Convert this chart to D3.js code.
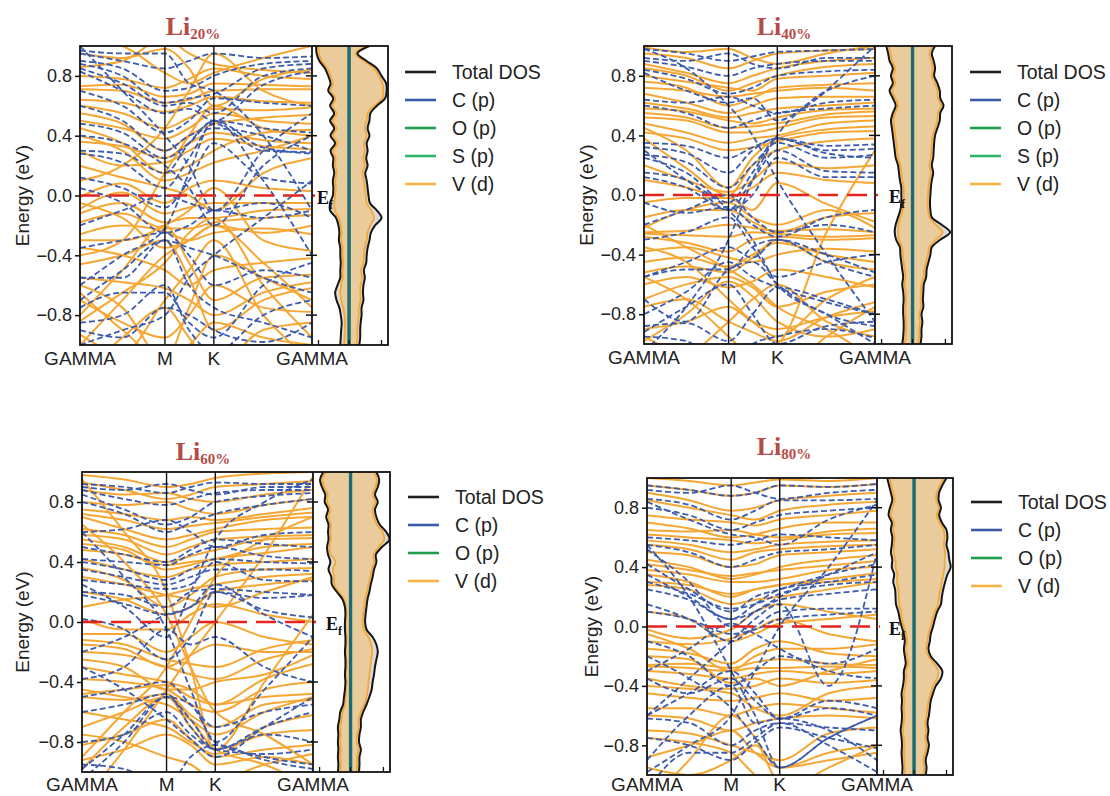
<!DOCTYPE html>
<html>
<head>
<meta charset="utf-8">
<script src="https://d3js.org/d3.v7.min.js"></script>
<style>
    body { margin: 0; background: #ffffff; }
    svg { display: block; }
    text { font-family: 'Liberation Sans', Arial, sans-serif; fill: #222; }
</style>
<title>Li band structures</title>
</head>
<body>
<svg id="chart" width="1110" height="796"></svg>
<script>
// path positions of the band samples (fraction of GAMMA-M-K-GAMMA) and the labelled points
var kPoints = [0, 0.183, 0.366, 0.47, 0.577, 0.79, 1];
var kTickPos = [0, 0.366, 0.577, 1];
var kTickLabels = ["GAMMA", "M", "K", "GAMMA"];
var energyTicks = [-0.8, -0.4, 0.0, 0.4, 0.8];
var dosTicks = [-3.3, 0, 3.5];

// energy grid of the DOS curves (eV), top to bottom
var dosEnergy = [1.0, 0.95, 0.9, 0.85, 0.8, 0.75, 0.7, 0.65, 0.6, 0.55, 0.5, 0.45, 0.4, 0.35, 0.3, 0.25, 0.2, 0.15, 0.1, 0.05, 0.0,
    -0.05, -0.1, -0.15, -0.2, -0.25, -0.3, -0.35, -0.4, -0.45, -0.5, -0.55, -0.6, -0.65, -0.7, -0.75, -0.8, -0.85, -0.9, -0.95, -1.0];

var legend5 = ["Total DOS", "C (p)", "O (p)", "S (p)", "V (d)"];
var legendColors5 = ["#1e1e1e", "#3b5ba8", "#1f9d4c", "#2fb56c", "#f5b444"];
var legend4 = ["Total DOS", "C (p)", "O (p)", "V (d)"];
var legendColors4 = ["#1e1e1e", "#3b5ba8", "#1f9d4c", "#f5b444"];

// ---- Li 20% ----
var li20Orange = [
    [0.73, 0.74, 0.66, 0.68, 0.75, 0.74, 0.73],
    [0.71, 0.70, 0.62, 0.64, 0.70, 0.71, 0.71],
    [0.64, 0.62, 0.56, 0.60, 0.66, 0.63, 0.62],
    [0.60, 0.55, 0.45, 0.52, 0.58, 0.57, 0.59],
    [0.55, 0.48, 0.30, 0.40, 0.48, 0.52, 0.54],
    [0.36, 0.33, 0.25, 0.35, 0.42, 0.37, 0.35],
    [0.30, 0.20, 0.22, 0.30, 0.38, 0.33, 0.31],
    [0.95, 0.92, 0.98, 0.85, 0.60, 0.78, 0.84],
    [1.05, 1.00, 0.82, 0.75, 0.82, 0.92, 1.00],
    [0.45, 0.35, 0.15, 0.20, 0.30, 0.42, 0.44],
    [-0.01, 0.08, -0.05, 0.05, 0.10, 0.05, 0.03],
    [-0.09, 0.02, -0.12, -0.08, -0.05, -0.05, -0.05],
    [-0.12, -0.05, -0.18, -0.15, -0.15, -0.10, -0.09],
    [-0.18, -0.12, -0.22, -0.22, -0.18, -0.15, -0.13],
    [-0.26, -0.20, -0.24, -0.30, -0.25, -0.22, -0.26],
    [-0.30, -0.30, -0.20, -0.10, 0.05, -0.30, -0.37],
    [-0.80, -0.50, -0.20, -0.45, -0.70, -0.55, -0.53],
    [-0.46, -0.40, -0.30, -0.55, -0.90, -0.70, -0.62],
    [-0.60, -0.75, -1.10, -0.75, -0.40, -0.55, -0.70],
    [-0.70, -0.85, -0.95, -0.80, -0.60, -0.75, -0.78],
    [-0.84, -0.65, -0.45, -0.25, -0.15, -0.60, -0.95],
    [-0.93, -1.05, -0.70, -0.50, -0.30, -0.80, -1.10],
    [-1.20, -0.95, -0.75, -0.95, -1.15, -0.90, -0.85],
    [0.80, 0.78, 0.72, 0.78, 0.85, 0.80, 0.78],
    [0.86, 0.90, 1.05, 0.95, 0.88, 0.84, 0.82],
    [0.50, 0.45, 0.38, 0.45, 0.55, 0.50, 0.48],
    [0.40, 0.30, 0.10, 0.15, 0.22, 0.30, 0.40],
    [0.20, 0.12, 0.05, 0.00, -0.10, 0.15, 0.25],
    [-0.05, -0.15, -0.35, -0.30, -0.20, -0.25, -0.20],
    [-0.35, -0.40, -0.50, -0.60, -0.50, -0.45, -0.42],
    [-0.55, -0.58, -0.62, -0.70, -0.80, -0.65, -0.58],
    [-0.65, -0.90, -1.10, -1.00, -0.85, -0.95, -1.00],
    [-1.00, -0.70, -0.40, -0.30, -0.20, -0.45, -0.75],
    [0.10, 0.20, 0.45, 0.70, 0.95, 0.70, 0.60],
    [-0.40, -0.30, 0.15, 0.40, 0.60, 0.45, 0.40]
];
var li20Blue = [
    [0.90, 0.85, 0.70, 0.72, 0.80, 0.88, 0.90],
    [0.88, 0.80, 0.62, 0.65, 0.68, 0.85, 0.88],
    [0.85, 0.75, 0.60, 0.62, 0.55, 0.80, 0.85],
    [0.83, 0.70, 0.55, 0.58, 0.50, 0.74, 0.83],
    [0.48, 0.42, 0.25, 0.35, 0.50, 0.45, 0.42],
    [0.30, 0.28, 0.15, 0.35, 0.50, 0.32, 0.28],
    [0.28, 0.22, 0.05, 0.25, 0.48, 0.30, 0.29],
    [0.12, 0.05, -0.08, 0.10, 0.35, 0.12, 0.08],
    [-0.20, -0.10, 0.00, -0.05, -0.10, -0.05, -0.15],
    [-0.55, -0.55, -0.30, -0.35, -0.40, -0.55, -0.65],
    [-0.60, -0.40, -0.22, 0.15, 0.50, 0.10, -0.40],
    [1.00, 0.70, 0.40, 0.20, -0.10, 0.30, 0.55],
    [-0.85, -0.80, -0.60, -0.90, -1.05, -0.80, -0.70],
    [-1.00, -0.90, -0.80, -0.55, -0.40, -0.15, 0.10],
    [0.97, 0.95, 0.95, 0.75, 0.70, 0.40, -0.10],
    [-0.75, -0.65, -0.65, -0.85, -0.95, -0.60, -0.45],
    [0.95, 0.90, 0.85, 0.90, 0.95, 0.92, 0.93],
    [0.70, 0.60, 0.42, 0.50, 0.65, 0.62, 0.60],
    [0.40, 0.35, 0.20, 0.05, -0.20, 0.20, 0.40],
    [0.05, -0.05, -0.25, -0.20, -0.10, -0.15, -0.10],
    [-0.35, -0.30, -0.25, -0.40, -0.60, -0.50, -0.55],
    [-0.90, -0.95, -0.75, -0.80, -0.90, -0.98, -0.85],
    [-0.70, -0.50, -0.30, -0.60, -0.75, -0.85, -0.95],
    [0.60, 0.50, 0.30, 0.40, 0.45, 0.40, 0.30]
];
var li20TotUp = [2.2, 0.9, 1.9, 3.0, 3.5, 4.0, 4.05, 3.9, 3.0, 2.3, 2.2, 2.0, 2.2, 1.9, 2.0, 1.85, 2.0, 1.75, 1.9, 2.0, 2.1,
    2.25, 3.0, 3.5, 2.8, 2.35, 2.2, 2.0, 1.9, 1.85, 1.6, 1.7, 1.55, 1.5, 1.55, 1.35, 1.35, 1.25, 1.2, 1.2, 1.1];
var li20VdUp = [2.0, 0.7, 1.6, 2.7, 3.2, 3.6, 3.7, 3.6, 2.7, 2.0, 1.9, 1.7, 1.9, 1.6, 1.7, 1.55, 1.7, 1.45, 1.6, 1.7, 1.8,
    1.9, 2.4, 2.7, 2.3, 2.0, 1.9, 1.7, 1.6, 1.55, 1.3, 1.4, 1.25, 1.2, 1.25, 1.05, 1.05, 0.95, 0.9, 0.9, 0.8];
var li20TotDn = [3.55, 3.5, 3.2, 2.6, 2.25, 2.0, 2.25, 1.7, 2.05, 1.6, 2.05, 1.6, 2.0, 1.5, 2.0, 1.7, 1.75, 1.6, 1.75, 1.7, 1.75,
    2.05, 2.05, 1.4, 1.15, 1.05, 1.1, 0.95, 0.95, 0.9, 0.95, 0.95, 1.25, 1.5, 1.35, 1.05, 0.9, 0.8, 0.85, 0.9, 0.95];
var li20VdDn = [3.3, 3.25, 2.95, 2.35, 2.0, 1.75, 2.0, 1.45, 1.8, 1.35, 1.8, 1.35, 1.75, 1.25, 1.75, 1.45, 1.5, 1.35, 1.5, 1.45, 1.5,
    1.6, 1.55, 1.1, 0.9, 0.8, 0.85, 0.7, 0.7, 0.65, 0.7, 0.7, 0.85, 0.95, 0.85, 0.65, 0.5, 0.45, 0.45, 0.5, 0.55];

// ---- Li 40% ----
var li40Orange = [
    [0.95, 0.92, 0.85, 0.90, 0.95, 0.97, 0.98],
    [0.88, 0.82, 0.75, 0.80, 0.85, 0.90, 0.92],
    [0.80, 0.76, 0.72, 0.70, 0.78, 0.80, 0.82],
    [0.72, 0.70, 0.66, 0.68, 0.70, 0.72, 0.70],
    [0.68, 0.62, 0.55, 0.60, 0.65, 0.66, 0.66],
    [0.58, 0.56, 0.50, 0.48, 0.52, 0.57, 0.58],
    [0.55, 0.52, 0.45, 0.46, 0.48, 0.54, 0.56],
    [0.52, 0.50, 0.42, 0.42, 0.45, 0.52, 0.53],
    [0.48, 0.42, 0.35, 0.38, 0.40, 0.48, 0.50],
    [0.45, 0.30, 0.05, 0.25, 0.38, 0.44, 0.46],
    [0.38, 0.18, 0.00, 0.20, 0.30, 0.36, 0.38],
    [0.20, 0.10, 0.02, 0.10, 0.22, 0.18, 0.20],
    [-0.05, -0.02, -0.02, -0.10, 0.08, -0.06, -0.18],
    [-0.22, -0.10, -0.05, -0.15, -0.20, -0.10, -0.22],
    [-0.25, -0.24, -0.20, -0.22, -0.24, -0.23, -0.25],
    [-0.26, -0.27, -0.28, -0.25, -0.26, -0.28, -0.27],
    [-0.28, -0.32, -0.38, -0.30, -0.28, -0.30, -0.29],
    [-0.45, -0.42, -0.48, -0.40, -0.32, -0.40, -0.45],
    [-0.52, -0.48, -0.52, -0.42, -0.30, -0.45, -0.50],
    [-0.70, -0.60, -0.55, -0.62, -0.75, -0.65, -0.60],
    [-1.30, -1.20, -1.10, -1.05, -1.00, -0.25, 0.30],
    [-0.90, -0.85, -0.75, -0.85, -0.90, -0.82, -0.78],
    [-0.95, -1.05, -0.85, -0.70, -0.60, -0.85, -0.95],
    [-0.55, -0.70, -0.95, -1.10, -1.20, -0.95, -0.75],
    [-0.35, -0.45, -0.70, -0.85, -0.95, -0.70, -0.55],
    [0.99, 0.96, 0.98, 0.92, 0.88, 0.95, 1.00],
    [0.85, 0.80, 0.70, 0.75, 0.80, 0.86, 0.88],
    [0.76, 0.72, 0.60, 0.65, 0.72, 0.74, 0.75],
    [0.62, 0.58, 0.52, 0.55, 0.58, 0.60, 0.62],
    [0.42, 0.38, 0.30, 0.32, 0.36, 0.42, 0.43],
    [0.10, 0.05, -0.02, 0.05, 0.15, 0.10, 0.08],
    [-0.15, -0.10, -0.10, -0.18, -0.25, -0.15, -0.12],
    [-0.38, -0.35, -0.42, -0.45, -0.40, -0.36, -0.38],
    [-0.60, -0.55, -0.62, -0.58, -0.50, -0.55, -0.62],
    [-0.75, -0.70, -0.85, -0.92, -0.98, -0.82, -0.72],
    [-0.20, -0.35, -0.50, -0.60, -0.75, -0.90, -1.10],
    [-0.98, -0.80, -0.58, -0.68, -0.85, -0.95, -0.90]
];
var li40Blue = [
    [0.92, 0.90, 0.95, 0.88, 0.85, 0.92, 0.92],
    [0.90, 0.86, 0.80, 0.85, 0.88, 0.90, 0.90],
    [0.84, 0.78, 0.68, 0.72, 0.80, 0.83, 0.84],
    [0.82, 0.70, 0.62, 0.65, 0.50, 0.70, 0.80],
    [0.64, 0.62, 0.66, 0.60, 0.55, 0.62, 0.64],
    [0.35, 0.33, 0.25, 0.32, 0.38, 0.33, 0.34],
    [0.32, 0.28, 0.15, 0.30, 0.38, 0.30, 0.31],
    [0.27, 0.22, 0.05, 0.20, 0.35, 0.25, 0.27],
    [0.15, 0.10, -0.10, 0.10, 0.30, 0.16, 0.15],
    [0.12, 0.05, -0.10, 0.00, 0.25, 0.12, 0.12],
    [-0.20, -0.10, 0.00, -0.15, -0.25, -0.20, -0.25],
    [-0.55, -0.45, -0.35, -0.42, -0.30, -0.45, -0.55],
    [-0.55, -0.50, -0.50, -0.35, -0.30, -0.40, -0.52],
    [-0.70, -0.85, -0.50, -0.45, -0.60, -0.80, -0.88],
    [-0.88, -0.86, -0.98, -0.80, -0.62, -0.70, -0.80],
    [-1.05, -0.75, -0.30, 0.10, 0.40, 0.70, 1.00],
    [0.98, 0.85, 0.60, 0.40, 0.10, -0.40, -0.85],
    [-0.95, -0.98, -1.20, -1.00, -0.95, -0.90, -0.96],
    [0.98, 0.95, 0.90, 0.93, 0.96, 0.97, 0.98],
    [0.60, 0.55, 0.45, 0.50, 0.55, 0.58, 0.60],
    [0.25, 0.15, -0.05, 0.15, 0.38, 0.28, 0.25],
    [-0.05, -0.12, -0.08, -0.20, -0.28, -0.15, -0.10],
    [-0.30, -0.25, -0.15, -0.35, -0.55, -0.45, -0.40],
    [-0.80, -0.65, -0.45, -0.55, -0.62, -0.72, -0.80],
    [0.30, 0.10, -0.10, -0.30, -0.60, -0.80, -1.00],
    [-0.92, -0.75, -0.60, -0.80, -1.00, -0.88, -0.85]
];
var li40TotUp = [2.4, 2.05, 2.25, 2.4, 2.3, 2.65, 2.9, 2.95, 3.3, 2.95, 2.9, 2.65, 2.4, 2.3, 2.25, 2.2, 2.05, 2.2, 2.05, 1.95, 1.9,
    1.85, 1.9, 2.05, 3.1, 4.0, 2.95, 2.05, 1.9, 1.7, 1.5, 1.45, 1.2, 1.15, 1.1, 1.15, 0.95, 1.05, 0.95, 0.95, 0.85];
var li40VdUp = [2.15, 1.8, 2.0, 2.15, 2.05, 2.4, 2.65, 2.7, 3.05, 2.7, 2.65, 2.4, 2.15, 2.05, 2.0, 1.95, 1.8, 1.95, 1.8, 1.7, 1.65,
    1.6, 1.65, 1.8, 2.5, 3.2, 2.5, 1.8, 1.65, 1.45, 1.25, 1.2, 0.95, 0.9, 0.85, 0.9, 0.7, 0.8, 0.7, 0.7, 0.6];
var li40TotDn = [2.8, 2.6, 2.45, 2.1, 2.3, 2.1, 2.45, 2.1, 1.8, 2.1, 2.3, 2.2, 2.1, 2.0, 1.9, 1.8, 1.55, 1.45, 1.35, 1.2, 1.2,
    1.2, 1.3, 1.55, 1.8, 1.9, 1.75, 1.35, 1.3, 1.2, 1.1, 1.0, 1.1, 1.0, 0.95, 1.0, 1.0, 0.95, 0.95, 1.0, 1.1];
var li40VdDn = [2.55, 2.35, 2.2, 1.85, 2.05, 1.85, 2.2, 1.85, 1.55, 1.85, 2.05, 1.95, 1.85, 1.75, 1.65, 1.55, 1.3, 1.2, 1.1, 0.95, 0.95,
    0.95, 1.05, 1.3, 1.5, 1.55, 1.45, 1.1, 1.05, 0.95, 0.85, 0.75, 0.85, 0.75, 0.7, 0.75, 0.75, 0.7, 0.7, 0.75, 0.85];

// ---- Li 60% ----
var li60Orange = [
    [0.98, 0.95, 0.90, 0.92, 0.96, 0.99, 1.00],
    [0.93, 0.88, 0.82, 0.85, 0.90, 0.92, 0.94],
    [0.80, 0.78, 0.80, 0.75, 0.72, 0.78, 0.82],
    [0.75, 0.72, 0.68, 0.70, 0.68, 0.72, 0.76],
    [0.70, 0.62, 0.55, 0.58, 0.62, 0.68, 0.70],
    [0.58, 0.55, 0.45, 0.50, 0.55, 0.57, 0.58],
    [0.55, 0.50, 0.40, 0.44, 0.48, 0.55, 0.56],
    [0.48, 0.45, 0.38, 0.40, 0.42, 0.50, 0.52],
    [0.42, 0.35, 0.30, 0.35, 0.38, 0.40, 0.42],
    [0.36, 0.28, 0.10, 0.18, 0.30, 0.35, 0.36],
    [0.10, 0.15, 0.18, 0.22, 0.25, 0.30, 0.32],
    [0.02, -0.05, -0.05, 0.05, 0.12, 0.05, 0.00],
    [-0.08, -0.08, -0.20, -0.10, 0.00, -0.10, -0.15],
    [-0.12, -0.15, -0.25, -0.28, -0.30, -0.18, -0.12],
    [-0.20, -0.22, -0.30, -0.35, -0.38, -0.25, -0.18],
    [-0.25, -0.30, -0.45, -0.45, -0.40, -0.35, -0.22],
    [-0.38, -0.40, -0.45, -0.55, -0.60, -0.45, -0.40],
    [-0.48, -0.45, -0.42, -0.50, -0.55, -0.50, -0.48],
    [-0.50, -0.52, -0.48, -0.62, -0.70, -0.55, -0.52],
    [-0.70, -0.60, -0.50, -0.70, -0.85, -0.75, -0.72],
    [-0.82, -0.75, -0.65, -0.78, -0.90, -0.85, -0.82],
    [-0.92, -0.85, -0.75, -0.82, -0.95, -0.90, -0.95],
    [-1.20, -0.85, -0.45, -0.22, 0.00, 0.45, 0.97],
    [0.95, 0.60, 0.20, -0.30, -0.85, -0.40, 0.05],
    [-0.98, -0.70, -0.50, -0.65, -0.85, -0.95, -1.10],
    [0.88, 0.85, 0.86, 0.82, 0.80, 0.85, 0.88],
    [0.72, 0.68, 0.62, 0.64, 0.66, 0.70, 0.73],
    [0.62, 0.58, 0.50, 0.55, 0.60, 0.62, 0.63],
    [0.52, 0.48, 0.35, 0.38, 0.42, 0.46, 0.50],
    [0.30, 0.25, 0.18, 0.15, 0.10, 0.20, 0.30],
    [0.20, 0.15, 0.05, 0.10, 0.20, 0.25, 0.28],
    [-0.15, -0.18, -0.30, -0.22, -0.15, -0.20, -0.20],
    [-0.30, -0.35, -0.40, -0.45, -0.55, -0.38, -0.28],
    [-0.45, -0.50, -0.55, -0.65, -0.75, -0.60, -0.50],
    [-0.60, -0.65, -0.70, -0.80, -0.88, -0.70, -0.62],
    [-0.75, -0.80, -0.90, -0.95, -1.05, -0.95, -0.88],
    [0.65, 0.40, 0.05, -0.30, -0.60, -0.75, -0.95],
    [-0.90, -0.60, -0.30, 0.00, 0.30, 0.55, 0.70]
];
var li60Blue = [
    [0.90, 0.88, 0.92, 0.88, 0.85, 0.90, 0.90],
    [0.88, 0.82, 0.78, 0.82, 0.86, 0.88, 0.88],
    [0.85, 0.75, 0.65, 0.70, 0.80, 0.84, 0.86],
    [0.60, 0.62, 0.68, 0.60, 0.50, 0.58, 0.60],
    [0.42, 0.40, 0.38, 0.45, 0.50, 0.44, 0.42],
    [0.40, 0.35, 0.28, 0.35, 0.42, 0.40, 0.39],
    [0.28, 0.25, 0.22, 0.25, 0.40, 0.28, 0.27],
    [0.20, 0.18, 0.10, 0.20, 0.22, 0.20, 0.18],
    [0.18, 0.12, 0.05, 0.10, 0.20, 0.16, 0.18],
    [0.02, -0.05, -0.25, -0.10, 0.20, 0.08, 0.03],
    [-0.38, -0.30, -0.05, -0.15, -0.10, -0.30, -0.40],
    [-0.98, -0.75, -0.50, -0.55, -0.80, -0.90, -0.95],
    [-1.05, -0.80, -0.50, -0.65, -0.85, -0.70, -0.60],
    [-0.60, -0.55, -0.48, -0.70, -0.85, -0.75, -0.80],
    [0.60, 0.30, -0.05, -0.45, -0.80, -0.45, -0.10],
    [-0.95, -0.98, -1.10, -0.90, -0.82, -0.92, -0.98],
    [0.25, 0.10, -0.10, 0.20, 0.55, 0.80, 0.95],
    [0.92, 0.90, 0.86, 0.90, 0.93, 0.92, 0.92],
    [0.80, 0.72, 0.60, 0.66, 0.72, 0.78, 0.82],
    [0.50, 0.45, 0.40, 0.48, 0.55, 0.52, 0.50],
    [0.35, 0.30, 0.25, 0.30, 0.35, 0.35, 0.34],
    [-0.20, -0.10, 0.05, 0.10, 0.25, 0.05, -0.10],
    [-0.50, -0.45, -0.40, -0.55, -0.70, -0.60, -0.55],
    [-0.80, -0.75, -0.60, -0.75, -0.85, -0.88, -0.85],
    [-0.30, -0.45, -0.65, -0.78, -0.90, -0.70, -0.50]
];
var li60TotUp = [2.75, 3.05, 2.9, 2.6, 2.9, 2.6, 2.75, 3.1, 3.8, 4.15, 3.35, 2.7, 2.75, 2.5, 2.35, 2.15, 2.0, 1.8, 1.7, 1.6, 1.55,
    1.7, 2.35, 2.75, 2.9, 2.75, 2.6, 2.5, 2.35, 2.25, 2.0, 1.7, 1.35, 1.1, 1.1, 0.95, 0.9, 1.1, 0.95, 0.95, 0.9];
var li60VdUp = [2.5, 2.8, 2.65, 2.35, 2.65, 2.35, 2.5, 2.8, 3.4, 3.6, 3.0, 2.45, 2.5, 2.25, 2.1, 1.9, 1.75, 1.55, 1.45, 1.35, 1.3,
    1.4, 1.9, 2.2, 2.3, 2.2, 2.1, 2.0, 1.9, 1.85, 1.7, 1.45, 1.1, 0.85, 0.85, 0.7, 0.65, 0.85, 0.7, 0.7, 0.65];
var li60TotDn = [2.9, 3.25, 3.05, 2.7, 2.75, 2.4, 2.6, 2.35, 2.4, 2.35, 2.5, 2.4, 2.15, 2.35, 2.05, 2.0, 1.45, 0.85, 0.6, 0.55, 0.6,
    0.6, 0.55, 0.55, 0.6, 0.55, 0.55, 0.6, 0.55, 0.6, 0.7, 0.8, 1.1, 1.2, 1.35, 1.3, 1.35, 1.3, 1.35, 1.3, 1.35];
var li60VdDn = [2.65, 3.0, 2.8, 2.45, 2.5, 2.15, 2.35, 2.1, 2.15, 2.1, 2.25, 2.1, 1.6, 1.9, 1.75, 1.75, 1.25, 0.7, 0.5, 0.45, 0.5,
    0.5, 0.45, 0.45, 0.5, 0.45, 0.45, 0.5, 0.45, 0.5, 0.55, 0.6, 0.85, 0.95, 1.1, 1.05, 1.1, 1.05, 1.1, 1.05, 1.1];

// ---- Li 80% ----
var li80Orange = [
    [0.95, 0.92, 0.88, 0.90, 0.95, 0.94, 0.96],
    [0.90, 0.85, 0.78, 0.80, 0.85, 0.88, 0.90],
    [0.75, 0.72, 0.70, 0.68, 0.72, 0.75, 0.78],
    [0.65, 0.64, 0.65, 0.62, 0.60, 0.64, 0.66],
    [0.62, 0.60, 0.58, 0.56, 0.58, 0.62, 0.63],
    [0.55, 0.52, 0.45, 0.50, 0.52, 0.54, 0.55],
    [0.50, 0.48, 0.40, 0.42, 0.48, 0.50, 0.52],
    [0.45, 0.40, 0.32, 0.35, 0.40, 0.45, 0.48],
    [0.38, 0.35, 0.30, 0.30, 0.32, 0.38, 0.40],
    [0.35, 0.30, 0.20, 0.25, 0.28, 0.32, 0.36],
    [0.28, 0.25, 0.15, 0.18, 0.20, 0.25, 0.30],
    [-0.02, -0.08, -0.02, 0.10, 0.15, 0.10, 0.05],
    [-0.10, -0.12, -0.08, -0.02, 0.05, -0.05, -0.10],
    [-0.15, -0.18, -0.25, -0.15, -0.10, -0.18, -0.20],
    [-0.26, -0.25, -0.28, -0.24, -0.22, -0.25, -0.26],
    [-0.27, -0.28, -0.30, -0.28, -0.28, -0.27, -0.28],
    [-0.30, -0.32, -0.35, -0.32, -0.30, -0.32, -0.30],
    [-0.35, -0.40, -0.42, -0.40, -0.35, -0.38, -0.36],
    [-0.45, -0.48, -0.50, -0.48, -0.45, -0.50, -0.48],
    [-0.55, -0.55, -0.60, -0.55, -0.52, -0.55, -0.58],
    [-0.60, -0.62, -0.70, -0.65, -0.62, -0.60, -0.62],
    [-0.88, -0.80, -0.70, -0.85, -0.95, -0.85, -0.80],
    [-0.95, -1.00, -0.90, -0.80, -0.95, -0.90, -0.85],
    [-1.20, -0.90, -0.60, -0.75, -1.05, -1.10, -1.15],
    [1.00, 0.98, 0.95, 0.97, 0.99, 0.98, 1.00],
    [0.85, 0.80, 0.75, 0.72, 0.78, 0.82, 0.84],
    [0.70, 0.66, 0.60, 0.62, 0.66, 0.70, 0.70],
    [0.58, 0.55, 0.50, 0.52, 0.55, 0.57, 0.58],
    [0.42, 0.38, 0.34, 0.36, 0.38, 0.41, 0.44],
    [0.30, 0.28, 0.22, 0.25, 0.28, 0.30, 0.32],
    [0.10, 0.05, -0.10, -0.05, 0.02, 0.05, 0.08],
    [-0.05, -0.15, -0.30, -0.20, -0.15, -0.15, -0.12],
    [-0.20, -0.22, -0.38, -0.35, -0.40, -0.30, -0.22],
    [-0.40, -0.42, -0.45, -0.55, -0.60, -0.45, -0.40],
    [-0.70, -0.72, -0.80, -0.85, -0.90, -0.72, -0.68],
    [-0.75, -0.78, -0.85, -1.00, -1.10, -0.95, -0.80]
];
var li80Blue = [
    [0.92, 0.90, 0.95, 0.90, 0.86, 0.90, 0.92],
    [0.86, 0.82, 0.72, 0.78, 0.85, 0.85, 0.86],
    [0.84, 0.72, 0.62, 0.60, 0.55, 0.72, 0.82],
    [0.60, 0.58, 0.55, 0.58, 0.62, 0.60, 0.58],
    [0.52, 0.30, 0.00, 0.10, 0.20, 0.35, 0.50],
    [0.42, 0.25, 0.10, 0.20, 0.25, 0.35, 0.42],
    [0.30, 0.22, 0.12, 0.15, 0.22, 0.28, 0.30],
    [0.25, 0.18, 0.05, 0.10, 0.18, 0.22, 0.25],
    [0.10, 0.05, -0.05, -0.02, 0.05, 0.08, 0.10],
    [-0.30, -0.15, 0.02, -0.05, -0.15, -0.30, -0.35],
    [-0.60, -0.35, -0.10, 0.05, 0.15, -0.40, 0.50],
    [-0.35, -0.45, -0.35, -0.50, -0.62, -0.55, -0.60],
    [-0.60, -0.45, -0.30, -0.45, -0.62, -0.50, -0.55],
    [-0.62, -0.65, -0.80, -0.70, -0.65, -0.68, -0.70],
    [-0.90, -0.60, -0.40, -0.65, -0.62, -0.70, -0.90],
    [-1.10, -0.85, -0.85, -0.75, -0.65, -0.80, -0.98],
    [-0.98, -0.80, -0.60, -0.30, 0.00, 0.40, 0.85],
    [0.55, 0.20, -0.30, -0.60, -0.95, -0.75, -0.60],
    [0.95, 0.92, 0.88, 0.90, 0.95, 0.94, 0.96],
    [0.80, 0.75, 0.65, 0.70, 0.75, 0.78, 0.80],
    [0.55, 0.50, 0.40, 0.45, 0.50, 0.52, 0.55],
    [0.35, 0.20, 0.05, 0.15, 0.25, 0.30, 0.35],
    [0.15, 0.05, -0.10, 0.00, 0.10, 0.12, 0.12],
    [-0.10, -0.20, -0.40, -0.30, -0.20, -0.25, -0.15],
    [-0.20, -0.35, -0.55, -0.75, -0.95, -0.75, -0.60],
    [-0.75, -0.80, -0.90, -0.78, -0.68, -0.75, -0.82]
];
var li80TotUp = [3.5, 3.05, 2.7, 2.65, 2.9, 2.7, 3.0, 3.5, 3.6, 3.5, 3.7, 3.8, 3.95, 3.6, 3.35, 3.15, 3.0, 2.9, 2.5, 2.25, 2.05,
    1.8, 1.7, 1.55, 1.8, 2.5, 3.05, 2.9, 2.35, 2.05, 1.8, 1.7, 1.6, 1.45, 1.55, 1.45, 1.6, 1.45, 1.25, 1.35, 1.25];
var li80VdUp = [3.25, 2.8, 2.45, 2.4, 2.65, 2.45, 2.75, 3.2, 3.3, 3.2, 3.35, 3.3, 3.3, 3.15, 3.0, 2.85, 2.7, 2.6, 2.25, 2.0, 1.8,
    1.55, 1.45, 1.3, 1.55, 2.15, 2.6, 2.5, 2.05, 1.8, 1.55, 1.45, 1.35, 1.2, 1.3, 1.2, 1.35, 1.2, 1.0, 1.1, 1.0];
var li80TotDn = [2.9, 2.7, 2.5, 2.35, 2.6, 2.75, 2.4, 2.5, 2.35, 2.4, 2.5, 2.35, 2.4, 2.15, 2.25, 2.05, 2.0, 1.95, 1.7, 1.55, 1.35,
    1.1, 1.0, 1.1, 1.0, 0.9, 1.1, 1.1, 1.2, 1.35, 1.3, 1.35, 1.3, 1.35, 1.45, 1.35, 1.3, 1.35, 1.3, 1.25, 1.3];
var li80VdDn = [2.65, 2.45, 2.25, 2.1, 2.35, 2.5, 2.15, 2.25, 2.1, 2.15, 2.2, 2.0, 2.0, 1.8, 1.85, 1.7, 1.65, 1.6, 1.4, 1.3, 1.1,
    0.85, 0.75, 0.85, 0.75, 0.65, 0.85, 0.85, 0.95, 1.1, 1.05, 1.1, 1.05, 1.1, 1.2, 1.1, 1.05, 1.1, 1.05, 1.0, 1.05];

// layout of the four panels
var panels = [
    { sub: "20%", x0: 80, x1: 312, x2: 388, y0: 46, y1: 345, tx: 193, ty: 35, lx: 405, ly: 72, ex: 22, efx: 5, ky: 365,
      orange: li20Orange, blue: li20Blue, totUp: li20TotUp, totDn: li20TotDn, vUp: li20VdUp, vDn: li20VdDn,
      legend: legend5, legendColors: legendColors5 },
    { sub: "40%", x0: 644, x1: 875, x2: 952, y0: 46, y1: 344, tx: 784, ty: 35, lx: 970, ly: 72, ex: 586, efx: 14, ky: 364,
      orange: li40Orange, blue: li40Blue, totUp: li40TotUp, totDn: li40TotDn, vUp: li40VdUp, vDn: li40VdDn,
      legend: legend5, legendColors: legendColors5 },
    { sub: "60%", x0: 82, x1: 313, x2: 390, y0: 472, y1: 772, tx: 203, ty: 460, lx: 408, ly: 497, ex: 22, efx: 13, ky: 791,
      orange: li60Orange, blue: li60Blue, totUp: li60TotUp, totDn: li60TotDn, vUp: li60VdUp, vDn: li60VdDn,
      legend: legend4, legendColors: legendColors4 },
    { sub: "80%", x0: 647, x1: 877, x2: 953, y0: 478, y1: 775, tx: 784, ty: 455, lx: 971, ly: 502, ex: 591, efx: 12, ky: 791,
      orange: li80Orange, blue: li80Blue, totUp: li80TotUp, totDn: li80TotDn, vUp: li80VdUp, vDn: li80VdDn,
      legend: legend4, legendColors: legendColors4 }
];

var svg = d3.select("#chart");
var defs = svg.append("defs");

panels.forEach(function (p, i) {
    var g = svg.append("g");
    var x = d3.scaleLinear().domain([0, 1]).range([p.x0, p.x1]);
    var y = d3.scaleLinear().domain([-1, 1]).range([p.y1, p.y0]);
    var xd = d3.scaleLinear().domain([-4, 4.2]).range([p.x1, p.x2]);

    defs.append("clipPath").attr("id", "clipBand" + i).append("rect")
        .attr("x", p.x0).attr("y", p.y0).attr("width", p.x1 - p.x0).attr("height", p.y1 - p.y0);
    defs.append("clipPath").attr("id", "clipDos" + i).append("rect")
        .attr("x", p.x1).attr("y", p.y0).attr("width", p.x2 - p.x1).attr("height", p.y1 - p.y0);

    // bands
    var band = d3.line()
        .x(function (d, j) { return x(kPoints[j]); })
        .y(function (d) { return y(d); })
        .curve(d3.curveMonotoneX);

    var bands = g.append("g").attr("clip-path", "url(#clipBand" + i + ")");
    bands.selectAll(".vd").data(p.orange).enter().append("path")
        .attr("class", "vd")
        .attr("d", band)
        .attr("fill", "none")
        .attr("stroke", "#f6a733")
        .attr("stroke-width", 2);
    bands.selectAll(".cp").data(p.blue).enter().append("path")
        .attr("class", "cp")
        .attr("d", band)
        .attr("fill", "none")
        .attr("stroke", "#3d5cae")
        .attr("stroke-width", 1.8)
        .attr("stroke-dasharray", "6,3");

    // high symmetry lines
    g.selectAll(".kline").data(kTickPos.slice(1, 3)).enter().append("line")
        .attr("x1", function (d) { return x(d); })
        .attr("x2", function (d) { return x(d); })
        .attr("y1", p.y0).attr("y2", p.y1)
        .attr("stroke", "#111").attr("stroke-width", 1.4);

    // Fermi level
    g.append("line")
        .attr("x1", p.x0).attr("x2", p.x1 + 3)
        .attr("y1", y(0)).attr("y2", y(0))
        .attr("stroke", "#e3231c")
        .attr("stroke-width", 2.4)
        .attr("stroke-dasharray", "20,9");

    // DOS
    var idx = d3.range(dosEnergy.length);
    var dosG = g.append("g").attr("clip-path", "url(#clipDos" + i + ")");
    var areaOf = function (up, dn) {
        return d3.area()
            .y(function (j) { return y(dosEnergy[j]); })
            .x0(function (j) { return xd(-dn[j]); })
            .x1(function (j) { return xd(up[j]); })
            .curve(d3.curveCatmullRom);
    };
    var lineOf = function (vals, sign) {
        return d3.line()
            .x(function (j) { return xd(sign * vals[j]); })
            .y(function (j) { return y(dosEnergy[j]); })
            .curve(d3.curveCatmullRom);
    };
    dosG.append("path").datum(idx).attr("d", areaOf(p.totUp, p.totDn)).attr("fill", "#dadada");
    dosG.append("path").datum(idx).attr("d", areaOf(p.vUp, p.vDn)).attr("fill", "#e9cb9c");
    [[p.vUp, 1], [p.vDn, -1]].forEach(function (s) {
        dosG.append("path").datum(idx).attr("d", lineOf(s[0], s[1]))
            .attr("fill", "none").attr("stroke", "#f5a833").attr("stroke-width", 1.8);
    });
    [[p.totUp, 1], [p.totDn, -1]].forEach(function (s) {
        dosG.append("path").datum(idx).attr("d", lineOf(s[0], s[1]))
            .attr("fill", "none").attr("stroke", "#151515").attr("stroke-width", 2);
    });
    dosG.append("line")
        .attr("x1", xd(0)).attr("x2", xd(0)).attr("y1", p.y0).attr("y2", p.y1)
        .attr("stroke", "#1f9d4c").attr("stroke-width", 3.4);
    dosG.append("line")
        .attr("x1", xd(0)).attr("x2", xd(0)).attr("y1", p.y0).attr("y2", p.y1)
        .attr("stroke", "#24508f").attr("stroke-width", 3).attr("opacity", 0.7);

    // frames
    g.append("rect")
        .attr("x", p.x0).attr("y", p.y0).attr("width", p.x2 - p.x0).attr("height", p.y1 - p.y0)
        .attr("fill", "none").attr("stroke", "#111").attr("stroke-width", 1.8);
    g.append("line")
        .attr("x1", p.x1).attr("x2", p.x1).attr("y1", p.y0).attr("y2", p.y1)
        .attr("stroke", "#111").attr("stroke-width", 1.8);

    // ticks on the DOS frame
    g.selectAll(".dtick").data(energyTicks.filter(function (d) { return d !== 0; })).enter().append("line")
        .attr("x1", p.x1 - 6).attr("x2", p.x1 + 5)
        .attr("y1", function (d) { return y(d); }).attr("y2", function (d) { return y(d); })
        .attr("stroke", "#111").attr("stroke-width", 1.5);
    g.selectAll(".btick").data(dosTicks).enter().append("line")
        .attr("x1", function (d) { return xd(d); }).attr("x2", function (d) { return xd(d); })
        .attr("y1", p.y1).attr("y2", p.y1 - 5)
        .attr("stroke", "#111").attr("stroke-width", 1.3);

    // energy axis
    var yAxis = g.append("g")
        .attr("transform", "translate(" + p.x0 + ",0)")
        .call(d3.axisLeft(y).tickValues(energyTicks).tickFormat(d3.format(".1f")).tickSize(5).tickPadding(3));
    yAxis.select(".domain").remove();
    yAxis.selectAll("line").attr("stroke", "#111").attr("stroke-width", 1.5);
    yAxis.selectAll("text")
        .style("font-family", "'Liberation Sans', Arial, sans-serif")
        .style("font-size", "18px")
        .style("fill", "#222");

    g.append("text")
        .attr("transform", "translate(" + p.ex + "," + y(0) + ") rotate(-90)")
        .attr("text-anchor", "middle")
        .attr("dy", "0.35em")
        .style("font-size", "19px")
        .text("Energy (eV)");

    // k-path labels
    g.selectAll(".klab").data(kTickPos).enter().append("text")
        .attr("x", function (d) { return x(d); })
        .attr("y", p.ky)
        .attr("text-anchor", "middle")
        .style("font-size", "19px")
        .text(function (d, j) { return kTickLabels[j]; });

    // Fermi label
    var ef = g.append("text")
        .attr("x", p.x1 + p.efx)
        .attr("y", y(0) + 8)
        .style("font-family", "'Liberation Serif', 'DejaVu Serif', serif")
        .style("font-weight", "bold")
        .style("fill", "#111");
    ef.append("tspan").style("font-size", "18px").text("E");
    ef.append("tspan").style("font-size", "12px").attr("dy", 5).text("f");

    // title
    var title = g.append("text")
        .attr("x", p.tx)
        .attr("y", p.ty)
        .attr("text-anchor", "middle")
        .style("font-family", "'Liberation Serif', 'DejaVu Serif', serif")
        .style("font-weight", "bold")
        .style("fill", "#b54b48");
    title.append("tspan").style("font-size", "26px").style("fill", "#b54b48").text("Li");
    title.append("tspan").style("font-size", "15px").style("fill", "#b54b48").attr("dy", 4).text(p.sub);

    // legend
    var leg = g.selectAll(".leg").data(p.legend).enter().append("g")
        .attr("transform", function (d, j) { return "translate(" + p.lx + "," + (p.ly + j * 28) + ")"; });
    leg.append("line")
        .attr("x1", 0).attr("x2", 31)
        .attr("stroke", function (d, j) { return p.legendColors[j]; })
        .attr("stroke-width", 2.6);
    leg.append("text")
        .attr("x", 47)
        .attr("dy", "0.35em")
        .style("font-size", "19.5px")
        .text(function (d) { return d; });
});
</script>
</body>
</html>
